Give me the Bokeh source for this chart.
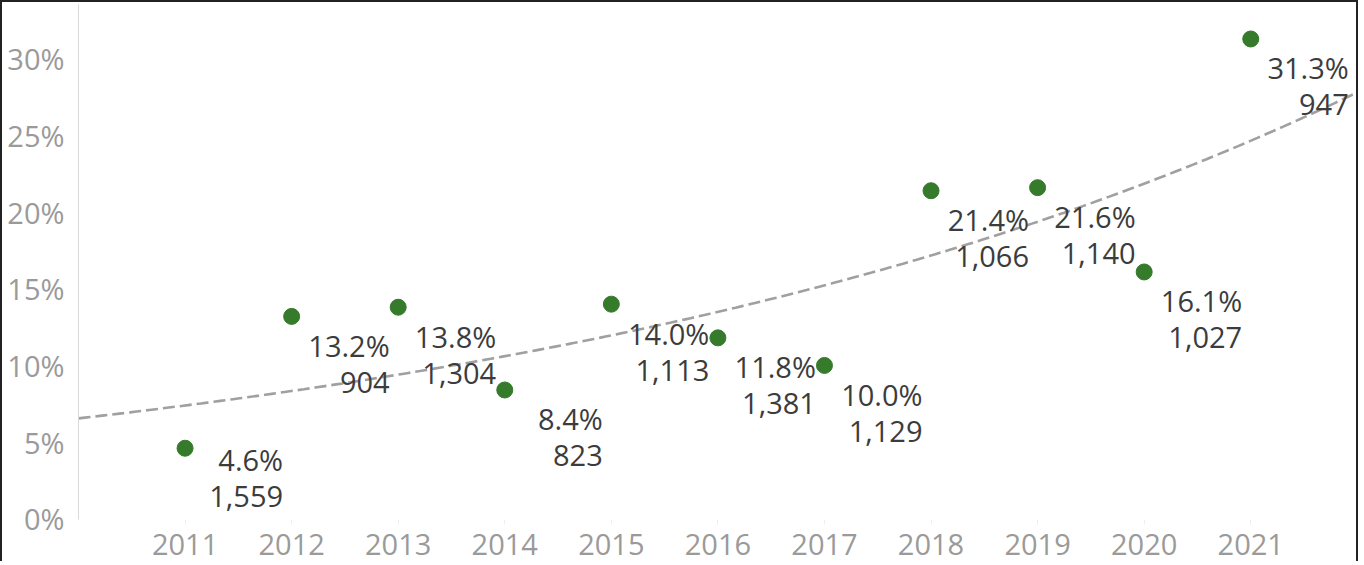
import numpy as np
from bokeh.plotting import figure
from bokeh.models import ColumnDataSource, FixedTicker, PrintfTickFormatter, Range1d
from bokeh.core.properties import value
from bokeh.embed import file_html
from bokeh.resources import INLINE

# ---- data ----
years = [2011, 2012, 2013, 2014, 2015, 2016, 2017, 2018, 2019, 2020, 2021]
pct = [4.6, 13.2, 13.8, 8.4, 14.0, 11.8, 10.0, 21.4, 21.6, 16.1, 31.3]
counts = [1559, 904, 1304, 823, 1113, 1381, 1129, 1066, 1140, 1027, 947]
y_ticks = [0, 5, 10, 15, 20, 25, 30]

FONT = "Open Sans"
GREEN = "#367a2b"
X_MIN, X_MAX = 2010.0, 2022.03
Y_MIN, Y_MAX = -0.05, 33.55

# labels near the bottom edge are lifted so they stay inside the plot
lab1_off = [11 if v < 6 else 29 for v in pct]
lab2_off = [o + 37 for o in lab1_off]

src = ColumnDataSource(dict(
    x=years,
    y=pct,
    ptxt=[f"{v:.1f}%" for v in pct],
    ctxt=[f"{c:,}" for c in counts],
    o1=lab1_off,
    o2=lab2_off,
))

p = figure(width=1358, height=561, output_backend="svg", toolbar_location=None,
           x_range=Range1d(X_MIN, X_MAX), y_range=Range1d(Y_MIN, Y_MAX),
           min_border_left=76, min_border_right=0, min_border_top=2, min_border_bottom=44)
p.styles = {"border-left": "2px solid #222", "border-top": "2px solid #222",
            "border-right": "2px solid #222"}
p.outline_line_color = None
p.xgrid.grid_line_color = None
p.ygrid.grid_line_color = None
p.background_fill_color = "white"

# exponential trend line (least squares on log values)
b, a = np.polyfit(np.array(years, dtype=float), np.log(np.array(pct)), 1)
tx = np.linspace(X_MIN, X_MAX, 200)
ty = np.exp(a + b * tx)
p.line(tx, ty, line_color="#a0a0a0", line_width=2.6, line_dash="12 5")

p.scatter("x", "y", source=src, size=16, fill_color=GREEN, line_color=GREEN)

p.text("x", "y", text="ptxt", source=src, x_offset=98, y_offset="o1",
       text_align="right", text_baseline="middle", text_color="#3c3c3c",
       text_font=value(FONT), text_font_size="29px")
p.text("x", "y", text="ctxt", source=src, x_offset=98, y_offset="o2",
       text_align="right", text_baseline="middle", text_color="#3c3c3c",
       text_font=value(FONT), text_font_size="29px")

# axes
p.xaxis.ticker = FixedTicker(ticks=years)
p.xaxis.axis_line_color = None
p.xaxis.major_tick_line_color = "#eeeeee"
p.xaxis.major_tick_out = 5
p.xaxis.major_tick_in = 0
p.xaxis.minor_tick_line_color = None
p.xaxis.major_label_standoff = 9
p.xaxis.major_label_text_font = FONT
p.xaxis.major_label_text_font_size = "29px"
p.xaxis.major_label_text_color = "#9a9a9a"

p.yaxis.ticker = FixedTicker(ticks=y_ticks)
p.yaxis.formatter = PrintfTickFormatter(format="%d%%")
p.yaxis.axis_line_color = "#d9d9d9"
p.yaxis.major_tick_line_color = None
p.yaxis.minor_tick_line_color = None
p.yaxis.major_label_standoff = 8
p.yaxis.major_label_text_font = FONT
p.yaxis.major_label_text_font_size = "29px"
p.yaxis.major_label_text_color = "#9a9a9a"

open("out.html", "w").write(file_html(p, INLINE))
